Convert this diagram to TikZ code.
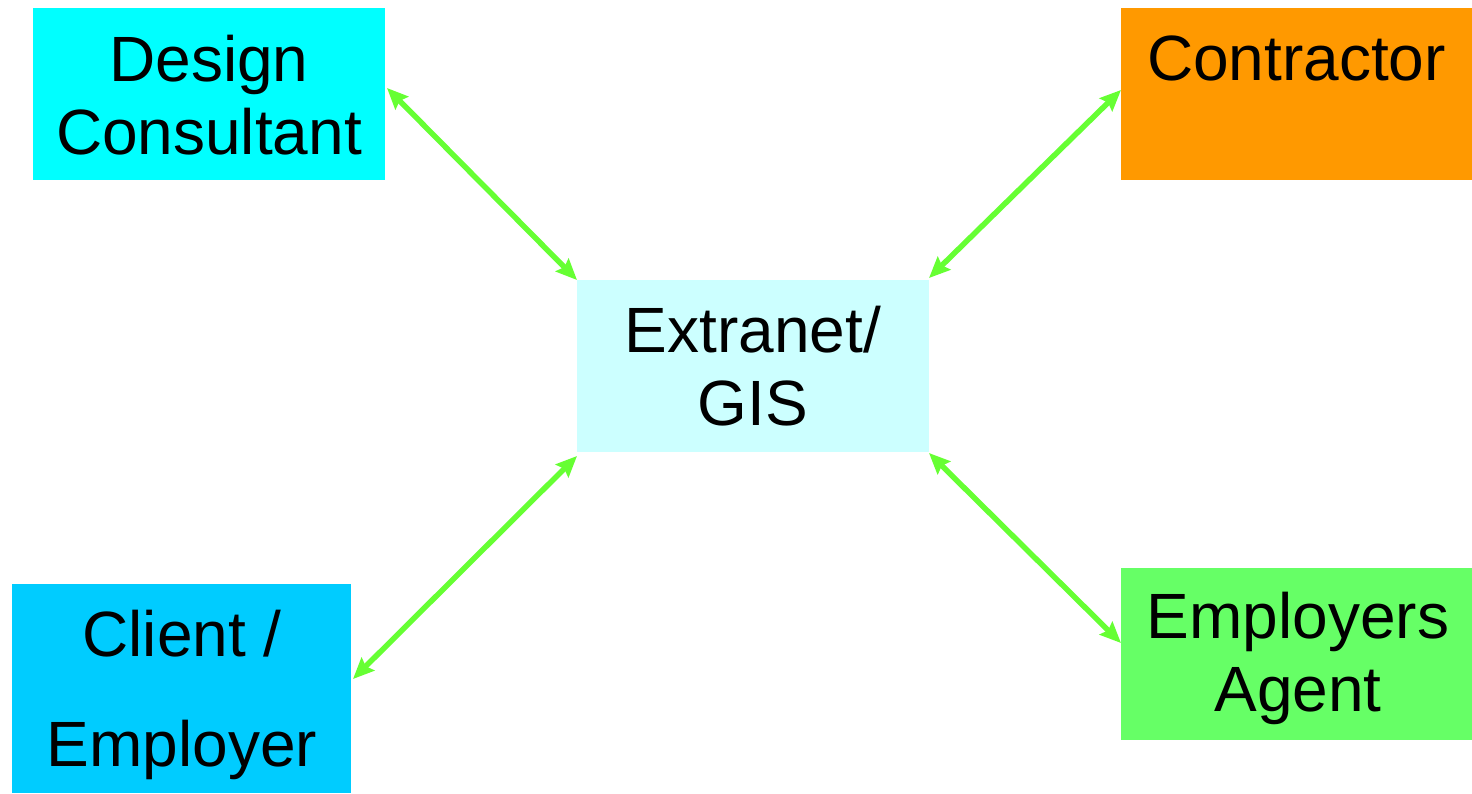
\documentclass[tikz,border=0pt]{standalone}
\usepackage{fontspec}
\setmainfont{Liberation Sans}
\usetikzlibrary{arrows.meta}
\definecolor{dcyan}{HTML}{00FFFF}
\definecolor{orng}{HTML}{FF9900}
\definecolor{lcyan}{HTML}{CCFFFF}
\definecolor{skyb}{HTML}{00CCFF}
\definecolor{lgreen}{HTML}{66FF66}
\definecolor{arr}{HTML}{66FF33}
\begin{document}
\begin{tikzpicture}[x=1pt,y=-1pt,
  box/.style={rectangle, inner sep=0pt, outer sep=0pt, fill=#1},
  lbl/.style={inner sep=0pt, align=center, font=\fontsize{64}{73}\selectfont, text=black},
  link/.style={draw=arr, line width=5.5pt, {Stealth[length=21pt,width=18pt,inset=3pt]}-{Stealth[length=21pt,width=18pt,inset=3pt]}}
]
\useasboundingbox[fill=white] (0,0) rectangle (1472,793);
% boxes
\node[box=dcyan, minimum width=352pt, minimum height=172pt] (dc) at (209,94) {};
\node[box=orng, minimum width=351pt, minimum height=172pt] (ct) at (1296.5,94) {};
\node[box=lcyan, minimum width=352pt, minimum height=172pt] (ex) at (753,366) {};
\node[box=skyb, minimum width=339pt, minimum height=209pt] (ce) at (181.5,688.5) {};
\node[box=lgreen, minimum width=351pt, minimum height=172pt] (ea) at (1296.5,654) {};
% texts
\node[lbl] (dct) at (209,95) {Design\\Consultant};
\node[lbl] (ctt) at (1296.5,58) {Contractor};
\node[lbl] (ext) at (753,366) {Extranet/\\GIS};
\node[lbl] (cet1) at (182,634) {Client /};
\node[lbl] (cet2) at (182,750) {Employer};
\node[lbl] (eat) at (1298,658) {Employers\\Agent};
% connector endpoints
\coordinate (a1) at (387,88);
\coordinate (a2) at (577,280);
\coordinate (b1) at (1121,90);
\coordinate (b2) at (929,278);
\coordinate (c1) at (577,456);
\coordinate (c2) at (353,679);
\coordinate (d1) at (929,453);
\coordinate (d2) at (1121,643);
\draw[link] (a1) -- (a2);
\draw[link] (b1) -- (b2);
\draw[link] (c1) -- (c2);
\draw[link] (d1) -- (d2);
\end{tikzpicture}
\end{document}
